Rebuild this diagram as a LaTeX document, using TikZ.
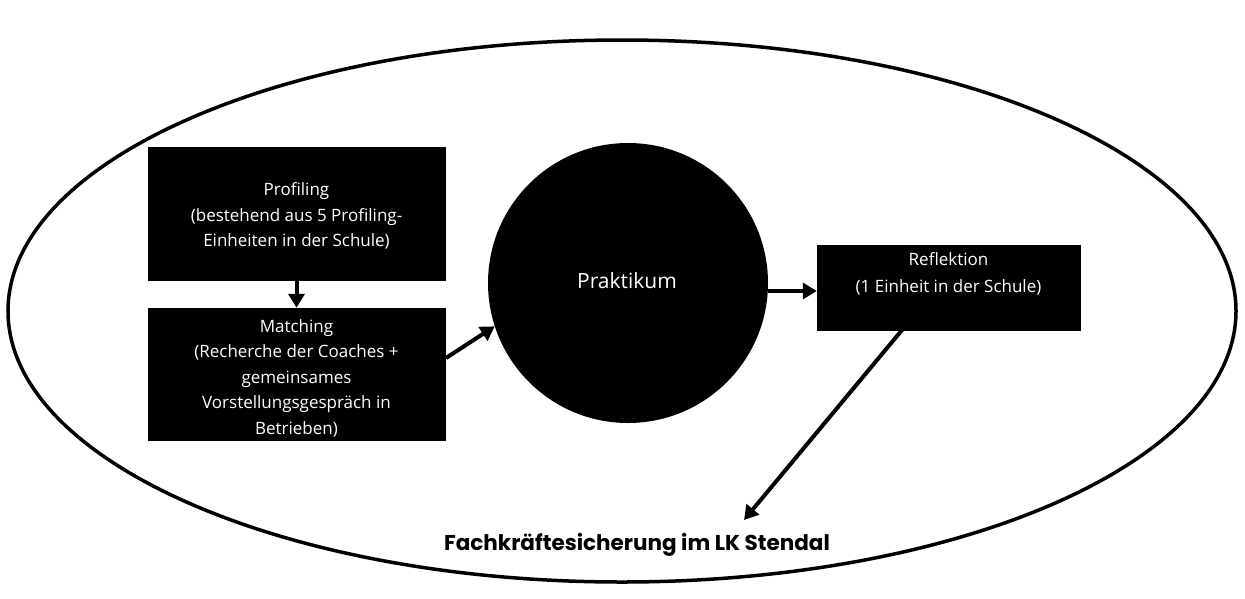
\documentclass[tikz,border=0pt]{standalone}
\usepackage{fontspec}
\setmainfont{Open Sans}
\newfontfamily\titlefont{Poppins}
\usetikzlibrary{arrows.meta}
\begin{document}
\begin{tikzpicture}[x=1pt,y=-1pt,
  boxfont/.style={font=\fontsize{17}{25.5}\selectfont},
  box/.style={fill=black,draw=black,text=white,align=center,inner sep=0pt,boxfont},
  conn/.style={line width=4pt,-{Triangle[length=14pt,width=16pt]}}]
\useasboundingbox (0,0) rectangle (1245,598);
\fill[white] (0,0) rectangle (1245,598);
\draw[line width=3.5pt] (622,311) ellipse [x radius=614, y radius=271];
\node[box,minimum width=297pt,minimum height=133pt] (prof) at (296.5,213.5) {};
\node[text=white,align=center,boxfont,inner sep=0pt] (proftext) at (296.5,216) {Profiling\\(bestehend aus 5 Profiling-\\Einheiten in der Schule)};
\node[box,minimum width=297pt,minimum height=132pt] (match) at (296.5,374) {};
\node[text=white,align=center,boxfont,inner sep=0pt] (matchtext) at (296.5,378) {Matching\\(Recherche der Coaches +\\gemeinsames\\Vorstellungsgespr\"ach in\\Betrieben)};
\node[circle,fill=black,minimum size=280pt,inner sep=0pt] (prak) at (628,283) {};
\node[text=white,font=\fontsize{21}{25}\selectfont] (praktext) at (627,281) {Praktikum};
\node[box,minimum width=263pt,minimum height=85pt] (refl) at (948.5,287.5) {};
\node[text=white,align=center,font=\fontsize{17}{27.5}\selectfont,inner sep=0pt] (refltext) at (948.5,274) {Reflektion\\(1 Einheit in der Schule)};
\node[font=\fontsize{21.5}{24}\selectfont\titlefont\bfseries] (fach) at (637,545) {Fachkr\"aftesicherung im LK Stendal};
\coordinate (fachtop) at (744,520);
\coordinate (mstart) at (446,358);
\coordinate (rstart) at (902,330);
\draw[conn] (prof.south) -- (match.north);
\draw[conn] (mstart) -- (prak.198);
\draw[conn] (prak.east |- 0,291) -- (refl.west |- 0,291);
\draw[conn] (rstart) -- (fachtop);
\end{tikzpicture}
\end{document}
